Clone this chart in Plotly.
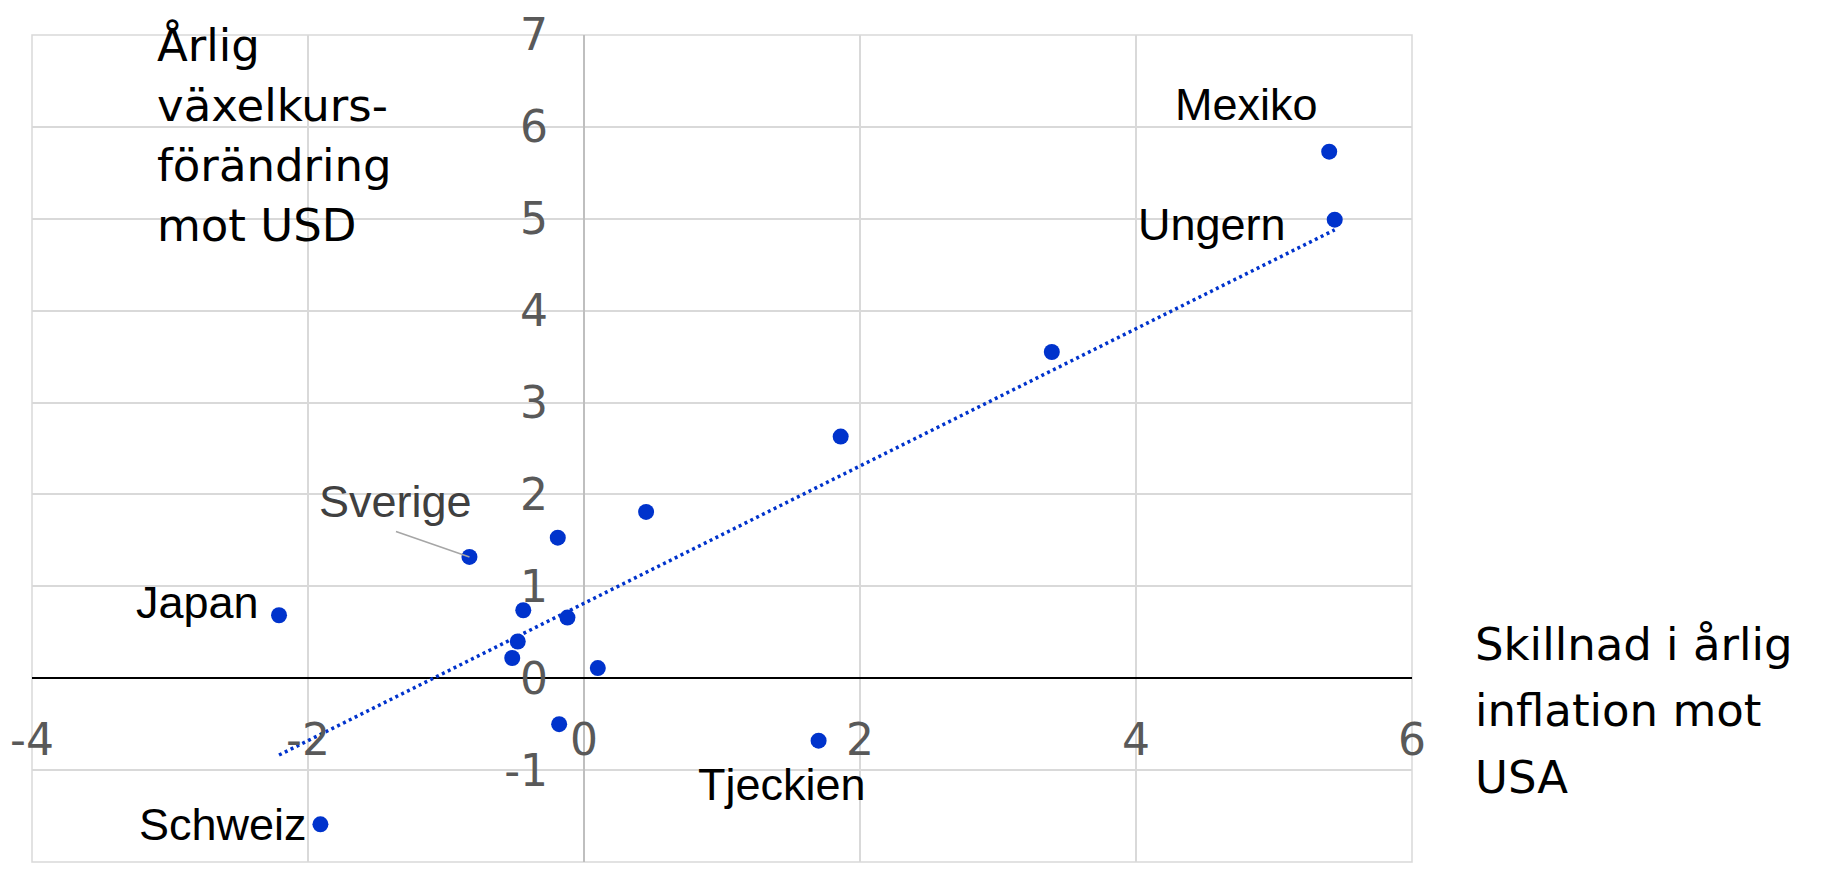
import numpy as np
import plotly.graph_objects as go

# ---------------- data ----------------
inflation_diff = [5.40, 5.44, 3.39, 1.86, 0.45, -0.19, -0.83, -2.21, -0.44, -0.12,
                  -0.48, -0.52, 0.10, -0.18, 1.70, -1.91]
fx_change = [5.73, 4.99, 3.55, 2.63, 1.81, 1.53, 1.32, 0.685, 0.74, 0.66,
             0.40, 0.22, 0.11, -0.50, -0.68, -1.59]
country = ["Mexiko", "Ungern", "", "", "", "", "Sverige", "Japan", "", "",
           "", "", "", "", "Tjeckien", "Schweiz"]

x_tick_vals = [-4, -2, 0, 2, 4, 6]
x_tick_text = ["-4", "-2", "0", "2", "4", "6"]
y_tick_vals = [-2, -1, 0, 1, 2, 3, 4, 5, 6, 7]
y_tick_text = ["-2", "-1", "0", "1", "2", "3", "4", "5", "6", "7"]

y_title_lines = ["Årlig", "växelkurs-", "förändring", "mot USD"]
x_title_lines = ["Skillnad i årlig", "inflation mot", "USA"]

# ---------------- layout geometry ----------------
# the page body has an 8px margin, so the figure starts at (8, 8) on screen
OFF = 8
W, H = 1826 - OFF, 877 - OFF
L, R, T, B = 24, 414, 27, 15
PW, PH = W - L - R, H - T - B


def pxx(xpix):
    return (xpix - OFF - L) / PW


def pxy(ypix):
    return (H - B - (ypix - OFF)) / PH


BLUE = "#0033CC"
GRID = "#d9d9d9"
LABEL_FONT = "Liberation Sans, Arial, sans-serif"
TITLE_FONT = "DejaVu Sans, sans-serif"

# label placement (pixel offsets from the point)
label_style = {
    "Mexiko": dict(xshift=-83, yshift=47, xanchor="center", color="#000000"),
    "Ungern": dict(xshift=-47, yshift=-5, xanchor="right", color="#000000"),
    "Sverige": dict(xshift=-74, yshift=55, xanchor="center", color="#404040"),
    "Japan": dict(xshift=-18, yshift=13, xanchor="right", color="#000000"),
    "Schweiz": dict(xshift=-11, yshift=0, xanchor="right", color="#000000"),
    "Tjeckien": dict(xshift=-37, yshift=-44, xanchor="center", color="#000000"),
}

# ---------------- trendline (OLS) ----------------
xa = np.array(inflation_diff)
ya = np.array(fx_change)
slope, intercept = np.polyfit(xa, ya, 1)
trend_x = np.array([xa.min(), xa.max()])
trend_y = slope * trend_x + intercept

fig = go.Figure()
fig.add_trace(go.Scatter(
    x=trend_x, y=trend_y, mode="lines",
    line=dict(color=BLUE, width=3.5, dash="3px,3.5px"),
    hoverinfo="skip", showlegend=False,
))
fig.add_trace(go.Scatter(
    x=inflation_diff, y=fx_change, mode="markers",
    marker=dict(color=BLUE, size=16, line=dict(width=0)),
    hoverinfo="skip", showlegend=False,
))

annotations = []
for xv, yv, name in zip(inflation_diff, fx_change, country):
    if not name:
        continue
    st = label_style[name]
    annotations.append(dict(
        x=xv, y=yv, xref="x", yref="y", text=name, showarrow=False,
        xanchor=st["xanchor"], yanchor="middle",
        xshift=st["xshift"], yshift=st["yshift"],
        font=dict(family=LABEL_FONT, size=45, color=st["color"]),
    ))
    if name == "Sverige":
        annotations.append(dict(
            x=xv, y=yv, xref="x", yref="y", text="", showarrow=True,
            arrowhead=0, arrowwidth=1.5, arrowcolor="#a6a6a6",
            ax=-75, ay=-26, standoff=0, startstandoff=0,
            font=dict(size=1),
        ))

# axis titles, one line each (screen pixel positions)
for i, line in enumerate(y_title_lines):
    baseline = 61 + i * 60
    annotations.append(dict(
        x=pxx(155), y=pxy(baseline - 15.6), xref="paper", yref="paper",
        text=line, showarrow=False, xanchor="left", yanchor="middle",
        font=dict(family=TITLE_FONT, size=45, color="#000000"),
    ))
for i, line in enumerate(x_title_lines):
    baseline = 660 + i * 66.5
    annotations.append(dict(
        x=pxx(1473), y=pxy(baseline - 15.6), xref="paper", yref="paper",
        text=line, showarrow=False, xanchor="left", yanchor="middle",
        font=dict(family=TITLE_FONT, size=45, color="#000000"),
    ))

tickfont = dict(family=TITLE_FONT, size=44, color="#595959")

fig.update_layout(
    width=W, height=H,
    margin=dict(l=L, r=R, t=T, b=B, pad=0, autoexpand=False),
    paper_bgcolor="white", plot_bgcolor="white",
    showlegend=False, hovermode=False,
    annotations=annotations,
    shapes=[dict(type="rect", xref="paper", yref="paper", x0=0, x1=1, y0=0, y1=1,
                 line=dict(color=GRID, width=1.5), layer="below")],
    xaxis=dict(
        range=[-4, 6], tickmode="array", tickvals=x_tick_vals, ticktext=x_tick_text,
        showgrid=True, gridcolor=GRID, gridwidth=1.5,
        zeroline=True, zerolinecolor="#bfbfbf", zerolinewidth=2,
        showline=False, ticks="", anchor="free", position=2 / 9,
        ticklabelstandoff=32, tickfont=tickfont, fixedrange=True, automargin=False,
    ),
    yaxis=dict(
        range=[-2, 7], tickmode="array", tickvals=y_tick_vals, ticktext=y_tick_text,
        showgrid=True, gridcolor=GRID, gridwidth=1.5,
        zeroline=True, zerolinecolor="#000000", zerolinewidth=2,
        showline=False, ticks="", anchor="free", position=0.4,
        ticklabelstandoff=36, tickfont=tickfont, fixedrange=True, automargin=False,
    ),
)

fig.write_html("out.html")
